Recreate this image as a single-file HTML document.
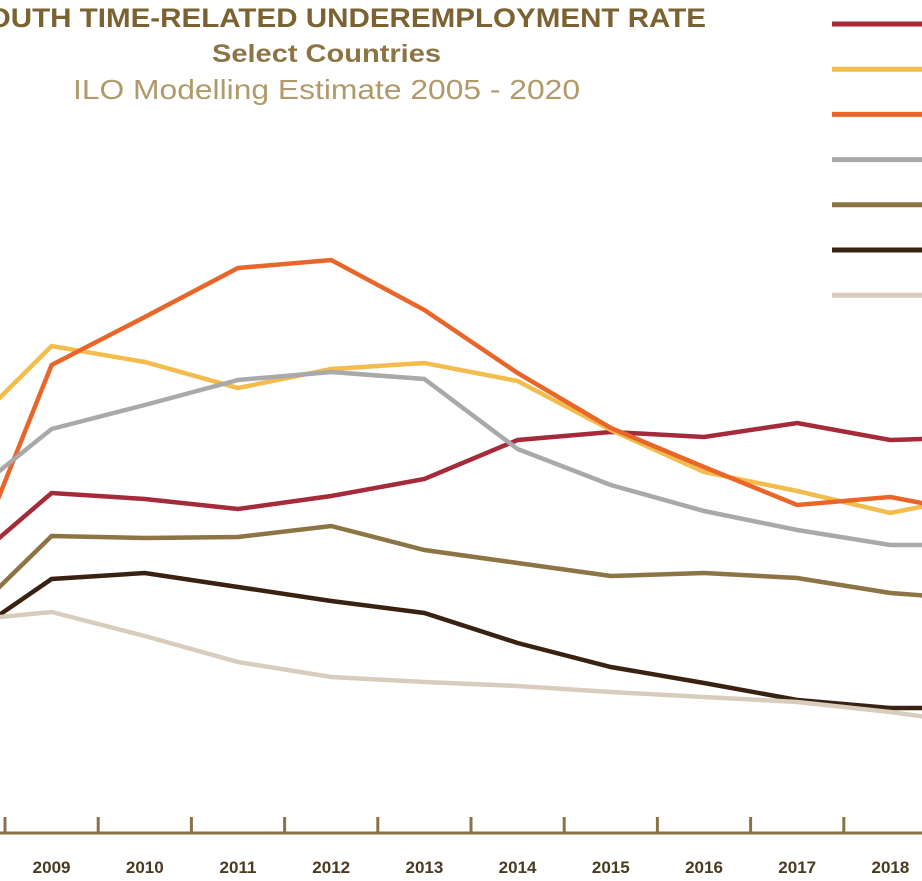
<!DOCTYPE html>
<html><head><meta charset="utf-8"><style>
html,body{margin:0;padding:0;background:#fff;overflow:hidden}
svg{display:block}
text{font-family:"Liberation Sans",sans-serif}
</style></head><body>
<svg id="chart" width="922" height="881" viewBox="0 0 922 881" xmlns="http://www.w3.org/2000/svg">
<text x="-32" y="27" textLength="738" lengthAdjust="spacingAndGlyphs" font-size="27" font-weight="bold" fill="#7a6232">YOUTH TIME-RELATED UNDEREMPLOYMENT RATE</text>
<text x="212" y="62" textLength="229" lengthAdjust="spacingAndGlyphs" font-size="25" font-weight="bold" fill="#8c7444">Select Countries</text>
<text x="73" y="99" textLength="507" lengthAdjust="spacingAndGlyphs" font-size="28" fill="#b09a6a">ILO Modelling Estimate 2005 - 2020</text>
<g id="axis"></g>
<g id="series"></g>
<g id="legend"></g>
</svg>
<script>
const years = [2008,2009,2010,2011,2012,2013,2014,2015,2016,2017,2018,2019];
const tickLabels = ["2009","2010","2011","2012","2013","2014","2015","2016","2017","2018"];
const seriesNames = ["country-a","country-b","country-c","country-d","country-e","country-f","country-g"];
const seriesColors = ["#a52a3a","#f2bd4c","#e8662a","#a9a9ab","#8c7444","#3a2212","#d8cdbd"];
const redVals    = [8.28,11.48,11.24,10.84,11.36,12.04,13.6,13.92,13.72,14.28,13.6,13.72];
const yellowVals = [13.64,17.36,16.72,15.68,16.44,16.68,15.96,14.0,12.32,11.56,10.68,11.44];
const orangeVals = [7.28,16.6,18.52,20.48,20.8,18.8,16.28,14.08,12.52,11.0,11.32,10.6];
const grayVals   = [11.04,14.04,15.0,16.0,16.32,16.04,13.24,11.8,10.76,10.0,9.4,9.4];
const oliveVals  = [6.12,9.76,9.68,9.72,10.16,9.2,8.68,8.16,8.28,8.08,7.48,7.2];
const darkVals   = [5.48,8.04,8.28,7.72,7.16,6.68,5.48,4.52,3.88,3.2,2.88,2.88];
const beigeVals  = [6.36,6.72,5.76,4.72,4.12,3.92,3.76,3.52,3.32,3.12,2.72,2.2];
const allSeries = [redVals,yellowVals,orangeVals,grayVals,oliveVals,darkVals,beigeVals];
const NS="http://www.w3.org/2000/svg";
function xScale(yr){return 51.6+(yr-2009)*93.2;}
function yScale(v){return 780-v*25;}
const axis=document.getElementById('axis');
const base=document.createElementNS(NS,'line');


base.setAttribute('x1',0);base.setAttribute('x2',922);base.setAttribute('y1',833);base.setAttribute('y2',833);
base.setAttribute('stroke','#8a7248');base.setAttribute('stroke-width',3);
axis.appendChild(base);
for(let i=0;i<=10;i++){
  const tx=xScale(2009)-46.6+i*93.2;
  const t=document.createElementNS(NS,'line');
  
  
  t.setAttribute('x1',tx);t.setAttribute('x2',tx);t.setAttribute('y1',817);t.setAttribute('y2',833);
  t.setAttribute('stroke','#8a7248');t.setAttribute('stroke-width',3);
  axis.appendChild(t);
}
tickLabels.forEach((lb,i)=>{
  const t=document.createElementNS(NS,'text');
  
  
  t.setAttribute('x',xScale(+lb));t.setAttribute('y',873);
  t.setAttribute('text-anchor','middle');t.setAttribute('font-size','17');t.setAttribute('font-weight','bold');t.setAttribute('fill','#4a3a20');
  t.textContent=lb;axis.appendChild(t);
});
const sg=document.getElementById('series');
allSeries.forEach((vals,si)=>{
  const p=document.createElementNS(NS,'polyline');
  
  
  p.setAttribute('points',vals.map((v,i)=>xScale(years[i])+','+yScale(v)).join(' '));
  p.setAttribute('fill','none');p.setAttribute('stroke',seriesColors[si]);p.setAttribute('stroke-width',4.5);
  p.setAttribute('stroke-linejoin','miter');
  sg.appendChild(p);
});
const lg=document.getElementById('legend');
seriesColors.forEach((c,i)=>{
  const l=document.createElementNS(NS,'line');
  
  
  const y=24+i*45.2;
  l.setAttribute('x1',832);l.setAttribute('x2',922);l.setAttribute('y1',y);l.setAttribute('y2',y);
  l.setAttribute('stroke',c);l.setAttribute('stroke-width',5);
  lg.appendChild(l);
});
</script>
</body></html>
